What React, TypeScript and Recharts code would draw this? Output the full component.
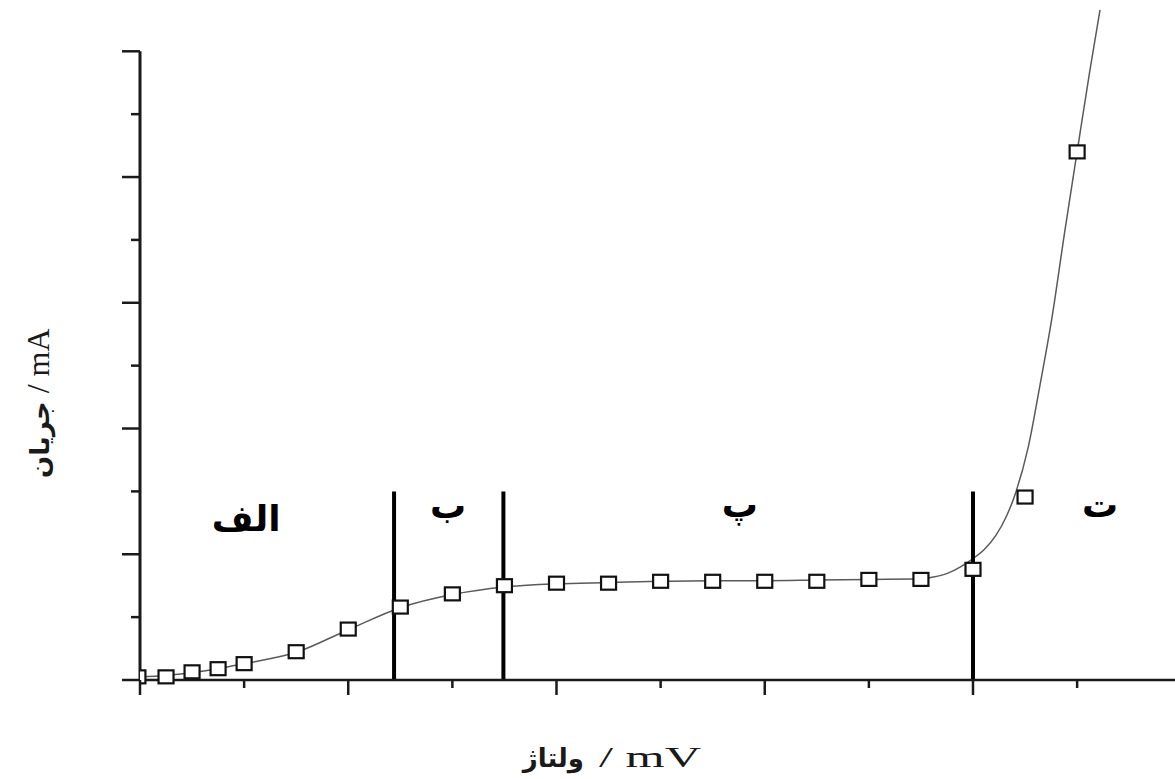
import {
  ComposedChart,
  Line,
  Scatter,
  XAxis,
  YAxis,
  ReferenceLine,
  ReferenceDot,
  Label,
} from "recharts";

// fitted curve (voltage in mV, current in mA)
const fitVoltage = [0, 25, 50, 75, 100, 150, 200, 250, 300, 350, 400, 450, 500, 550, 600, 650, 700, 750, 762, 776, 788, 799, 811, 822, 832, 841, 853, 864, 876, 888, 900, 912, 922];
const fitCurrent = [0.25, 0.35, 0.6, 0.9, 1.3, 2.2, 4.0, 5.75, 6.8, 7.4, 7.65, 7.75, 7.85, 7.9, 7.9, 7.95, 8.0, 8.05, 8.19, 8.5, 9.0, 9.6, 10.4, 11.5, 13.0, 14.9, 18.5, 23.3, 28.9, 35.6, 42.0, 48.35, 53.3];

// measured points
const pointVoltage = [-2, 25, 50, 75, 100, 150, 200, 250, 300, 350, 400, 450, 500, 550, 600, 650, 700, 750, 800, 850, 900];
const pointCurrent = [0.25, 0.25, 0.65, 0.9, 1.3, 2.25, 4.05, 5.8, 6.85, 7.5, 7.7, 7.7, 7.85, 7.85, 7.85, 7.85, 8.0, 8.0, 8.8, 14.55, 42.0];

const xTicks = [0, 100, 200, 300, 400, 500, 600, 700, 800, 900];
const yTicks = [0, 5, 10, 15, 20, 25, 30, 35, 40, 45, 50];

// region boundaries (mV) and their height (mA)
const boundaries = [244, 349, 800];
const boundaryTop = 15;

const regionNames = ["الف", "ب", "پ", "ت"];

const fitData = fitVoltage.map((x, i) => ({ x, y: fitCurrent[i] }));
const pointData = pointVoltage.map((x, i) => ({ x, y: pointCurrent[i] }));

const INK = "#1a1a1a";
const ARABIC = "'DejaVu Sans', sans-serif";
const LATIN = "'Liberation Serif', 'Times New Roman', serif";

function YTick({ x, y, payload }: any) {
  const len = payload.value % 10 === 0 ? 18 : 9;
  return <line x1={x - len} x2={x} y1={y} y2={y} stroke={INK} strokeWidth={2.5} />;
}

function XTick({ x, y, payload }: any) {
  const len = payload.value % 200 === 0 ? 15 : 8;
  return <line x1={x} x2={x} y1={y} y2={y + len} stroke={INK} strokeWidth={2.5} />;
}

function Square({ cx, cy }: any) {
  if (cx == null || cy == null) return null;
  return (
    <rect x={cx - 7.5} y={cy - 6.5} width={15} height={13} fill="#fff" stroke="#111" strokeWidth={2.2} />
  );
}

function XTitle({ viewBox }: any) {
  const y = viewBox.y + 87;
  return (
    <g fill={INK}>
      <text x={viewBox.x + 444} y={y} textAnchor="end" fontFamily={ARABIC} fontWeight={700} fontSize={26}>
        ولتاژ
      </text>
      <text
        x={viewBox.x + 459}
        y={y}
        fontFamily={LATIN}
        fontSize={29}
        textLength={102}
        lengthAdjust="spacingAndGlyphs"
      >
        / mV
      </text>
    </g>
  );
}

function YTitle({ viewBox }: any) {
  const x = viewBox.x + 49;
  const y = viewBox.y + 477;
  return (
    <text x={x} y={y} textAnchor="start" fill={INK} transform={`rotate(-90, ${x}, ${y})`}>
      <tspan fontFamily={ARABIC} fontWeight={700} fontSize={26}>جریان</tspan>
      <tspan dx={8} fontFamily={LATIN} fontSize={32}>{"/ mA"}</tspan>
    </text>
  );
}

const regionLabel = (value: string) => ({
  value,
  position: "center" as const,
  fontSize: 36,
  fontWeight: 700,
  fontFamily: ARABIC,
  fill: "#000",
});

export default function App() {
  const labelAt = [
    { x: 102, y: 12.9 },
    { x: 296, y: 13.9 },
    { x: 576, y: 14.0 },
    { x: 922, y: 14.0 },
  ];

  return (
    <div style={{ position: "absolute", left: 0, top: 0, width: 1175, height: 779, background: "#fff" }}>
      <ComposedChart
        width={1175}
        height={779}
        margin={{ top: 1, right: 0, bottom: 0, left: 0 }}
      >
        <XAxis
          type="number"
          dataKey="x"
          domain={[0, 994]}
          allowDataOverflow
          ticks={xTicks}
          interval={0}
          height={99}
          tickSize={0}
          tickMargin={0}
          tick={<XTick />}
          tickLine={false}
          axisLine={{ stroke: INK, strokeWidth: 2.5 }}
        >
          <Label content={<XTitle />} />
        </XAxis>
        <YAxis
          type="number"
          dataKey="y"
          domain={[0, 54]}
          ticks={yTicks}
          interval={0}
          width={140}
          tickSize={0}
          tickMargin={0}
          tick={<YTick />}
          tickLine={false}
          axisLine={false}
        >
          <Label content={<YTitle />} />
        </YAxis>
        <Line
          data={fitData}
          dataKey="y"
          type="monotone"
          stroke="#5a5a5a"
          strokeWidth={1.5}
          dot={false}
          activeDot={false}
          isAnimationActive={false}
        />
        <Scatter data={pointData} dataKey="y" shape={<Square />} isAnimationActive={false} />
        <ReferenceLine
          segment={[{ x: 0, y: 0 }, { x: 0, y: 50 }]}
          stroke={INK}
          strokeWidth={3}
        />
        {boundaries.map((b) => (
          <ReferenceLine
            key={b}
            segment={[{ x: b, y: 0 }, { x: b, y: boundaryTop }]}
            stroke="#000"
            strokeWidth={4}
          />
        ))}
        {regionNames.map((name, i) => (
          <ReferenceDot
            key={name}
            x={labelAt[i].x}
            y={labelAt[i].y}
            r={0}
            fill="none"
            stroke="none"
            label={regionLabel(name)}
          />
        ))}
      </ComposedChart>
    </div>
  );
}
